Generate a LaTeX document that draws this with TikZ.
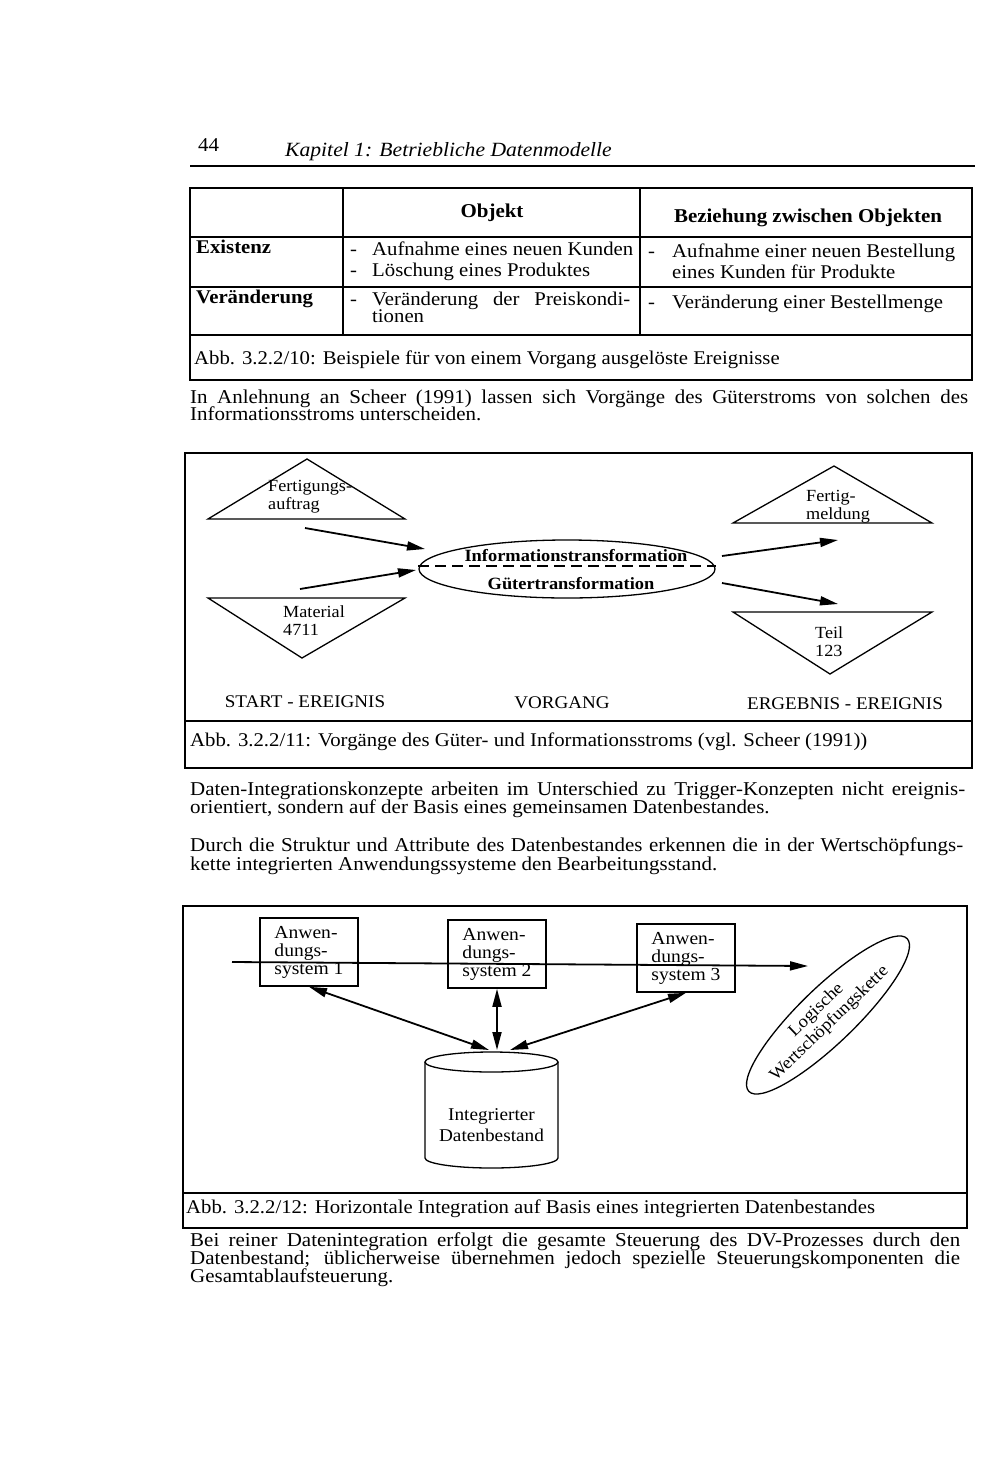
\documentclass[tikz,border=0pt]{standalone}
\usepackage{fontspec}
\setmainfont{Liberation Serif}[FakeStretch=1.07]
\usetikzlibrary{arrows.meta}
\usetikzlibrary{shapes.geometric}
\newcommand{\vollzeile}[2]{\makebox[#1][s]{#2}}

\tikzset{
  linie/.style={line width=1.3pt},
  rahmen/.style={line width=1.8pt},
  pfeil/.style={line width=1.8pt, -{Triangle[length=18pt,width=9pt]}},
  doppelpfeil/.style={line width=1.8pt, {Triangle[length=18pt,width=9pt]}-{Triangle[length=18pt,width=9pt]}},
  zeile/.style={anchor=base west, inner sep=0pt, font=\fontsize{19.6}{19}\selectfont},
  zelle/.style={anchor=base west, inner sep=0pt, font=\fontsize{19.4}{21}\selectfont},
  kopf/.style={anchor=base, inner sep=0pt, font=\fontsize{19.6}{21}\selectfont\bfseries},
  bildtext/.style={anchor=north west, inner sep=0pt, align=left, font=\fontsize{17}{18}\selectfont},
  marke/.style={anchor=base, inner sep=0pt, font=\fontsize{17.8}{18}\selectfont},
  anwbox/.style={draw, line width=1.6pt, minimum width=98pt, minimum height=68pt, inner sep=0pt, align=left, font=\fontsize{18.3}{18}\selectfont}
}

\begin{document}
\begin{tikzpicture}[x=1pt, y=1pt]
\useasboundingbox (0,0) rectangle (1000,-1473);

% ---- Kopfzeile ----
\node[zeile] (seite) at (198,-151) {44};
\node[zeile, font=\fontsize{20.2}{20}\selectfont\itshape] (kapitel) at (285,-156) {Kapitel 1: Betriebliche Datenmodelle};
\draw[linie] (190,-166) -- (975,-166);

% ---- Tabelle: Ereignisse ----
\draw[rahmen] (190,-188) rectangle (972,-380);
\draw[linie] (190,-237) -- (972,-237);
\draw[linie] (190,-287) -- (972,-287);
\draw[linie] (190,-335) -- (972,-335);
\draw[linie] (343,-188) -- (343,-335);
\draw[linie] (640,-188) -- (640,-335);
\node[kopf] (objekt) at (492,-217) {Objekt};
\node[kopf] (beziehung) at (808,-222) {Beziehung zwischen Objekten};
\node[zelle, font=\fontsize{19.4}{21}\selectfont\bfseries] (existenz) at (196,-253) {Existenz};
\node[zelle, font=\fontsize{19.4}{21}\selectfont\bfseries] (veraend) at (196,-303) {Veränderung};
\node[zelle] (s1) at (350,-255) {-};
\node[zelle] (t1) at (372,-255) {Aufnahme eines neuen Kunden};
\node[zelle] (s2) at (350,-276) {-};
\node[zelle] (t2) at (372,-276) {Löschung eines Produktes};
\node[zelle] (s3) at (350,-305) {-};
\node[zelle] (t3) at (372,-305) {\vollzeile{258pt}{Veränderung der Preiskondi-}};
\node[zelle] (t4) at (372,-322) {tionen};
\node[zelle] (s5) at (648,-257) {-};
\node[zelle] (t5) at (672,-257) {Aufnahme einer neuen Bestellung};
\node[zelle] (t6) at (672,-278) {eines Kunden für Produkte};
\node[zelle] (s7) at (648,-308) {-};
\node[zelle] (t7) at (672,-308) {Veränderung einer Bestellmenge};
\node[zelle] (abb10) at (194,-364) {Abb. 3.2.2/10: Beispiele für von einem Vorgang ausgelöste Ereignisse};

% ---- Absatz ----
\node[zeile] (p1a) at (190,-403) {\vollzeile{778pt}{In Anlehnung an Scheer (1991) lassen sich Vorgänge des Güterstroms von solchen des}};
\node[zeile] (p1b) at (190,-420) {Informationsstroms unterscheiden.};

% ---- Abb. 11: Vorgaenge ----
\draw[rahmen] (185,-453) rectangle (972,-768);
\draw[linie] (185,-721) -- (972,-721);
\draw[linie] (208,-519) -- (307,-459) -- (405,-519) -- cycle;
\draw[linie] (208,-598) -- (405,-598) -- (302,-658) -- cycle;
\draw[linie] (733,-523) -- (834,-466) -- (932,-523) -- cycle;
\draw[linie] (733,-612) -- (932,-612) -- (830,-674) -- cycle;
\node[bildtext] (auftrag) at (268,-480) {Fertigungs-\\auftrag};
\node[bildtext] (material) at (283,-605) {Material\\4711};
\node[bildtext] (meldung) at (806,-490) {Fertig-\\meldung};
\node[bildtext] (teil) at (815,-626) {Teil\\123};
\node[ellipse, draw, linie, minimum width=296pt, minimum height=58pt, inner sep=0pt] (vorgang) at (567,-569) {};
\node[anchor=base, inner sep=0pt, font=\fontsize{17.2}{18}\selectfont\bfseries] (info) at (576,-561) {Informationstransformation};
\node[anchor=base, inner sep=0pt, font=\fontsize{17.2}{18}\selectfont\bfseries] (gueter) at (571,-589) {Gütertransformation};
\draw[line width=1.3pt, dash pattern=on 11pt off 6pt] ([yshift=3pt]vorgang.west) -- ([yshift=3pt]vorgang.east);
\coordinate (a1s) at (305,-528); \coordinate (a1e) at (425,-549);
\coordinate (a2s) at (300,-589); \coordinate (a2e) at (416,-570);
\coordinate (a3s) at (722,-556); \coordinate (a3e) at (838,-540);
\coordinate (a4s) at (722,-583); \coordinate (a4e) at (838,-604);
\draw[pfeil] (a1s) -- (a1e);
\draw[pfeil] (a2s) -- (a2e);
\draw[pfeil] (a3s) -- (a3e);
\draw[pfeil] (a4s) -- (a4e);
\node[marke] (start) at (305,-707) {START - EREIGNIS};
\node[marke] (vg) at (562,-708) {VORGANG};
\node[marke] (ergebnis) at (845,-709) {ERGEBNIS - EREIGNIS};
\node[zelle] (abb11) at (190,-746) {Abb. 3.2.2/11: Vorgänge des Güter- und Informationsstroms (vgl. Scheer (1991))};

% ---- Absaetze ----
\node[zeile] (p2a) at (190,-795) {\vollzeile{775pt}{Daten-Integrationskonzepte arbeiten im Unterschied zu Trigger-Konzepten nicht ereignis-}};
\node[zeile] (p2b) at (190,-813) {orientiert, sondern auf der Basis eines gemeinsamen Datenbestandes.};
\node[zeile] (p3a) at (190,-851) {\vollzeile{773pt}{Durch die Struktur und Attribute des Datenbestandes erkennen die in der Wertschöpfungs-}};
\node[zeile] (p3b) at (190,-870) {kette integrierten Anwendungssysteme den Bearbeitungsstand.};

% ---- Abb. 12: Horizontale Integration ----
\draw[rahmen] (183,-906) rectangle (967,-1228);
\draw[linie] (183,-1193) -- (967,-1193);
\node[anwbox] (as1) at (309,-952) {Anwen-\\dungs-\\system 1};
\node[anwbox] (as2) at (497,-954) {Anwen-\\dungs-\\system 2};
\node[anwbox] (as3) at (686,-958) {Anwen-\\dungs-\\system 3};
\coordinate (kstart) at (232,-962);
\coordinate (kende) at (808,-966);
\draw[pfeil] (kstart) -- (kende);
% Datenbestand als Zylinder
\draw[linie] (425,-1062) -- (425,-1158) arc[start angle=180, end angle=360, x radius=66.5, y radius=10] -- (558,-1062);
\draw[linie] (491.5,-1062) ellipse [x radius=66.5, y radius=10];
\node[bildtext, anchor=center, align=center, font=\fontsize{18}{21}\selectfont] (db) at (491.5,-1125) {Integrierter\\Datenbestand};
\coordinate (db1) at (489,-1050);
\coordinate (db2) at (497,-1050);
\coordinate (db3) at (510,-1050);
\draw[doppelpfeil] (as1.south) -- (db1);
\draw[doppelpfeil] (as2.south) -- (db2);
\draw[doppelpfeil] (as3.south) -- (db3);
% logische Kette als gedrehte Ellipse
\draw[linie, rotate around={44:(828,-1015)}] (828,-1015) ellipse [x radius=110, y radius=28];
\node[rotate=44, inner sep=0pt, align=center, font=\fontsize{17.5}{19}\selectfont] (kette) at (823,-1017) {Logische\\Wertschöpfungskette};
\node[zelle] (abb12) at (186,-1213) {Abb. 3.2.2/12: Horizontale Integration auf Basis eines integrierten Datenbestandes};

% ---- Schlussabsatz ----
\node[zeile] (p4a) at (190,-1246) {\vollzeile{770pt}{Bei reiner Datenintegration erfolgt die gesamte Steuerung des DV-Prozesses durch den}};
\node[zeile] (p4b) at (190,-1264) {\vollzeile{770pt}{Datenbestand; üblicherweise übernehmen jedoch spezielle Steuerungskomponenten die}};
\node[zeile] (p4c) at (190,-1282) {Gesamtablaufsteuerung.};

\end{tikzpicture}
\end{document}
